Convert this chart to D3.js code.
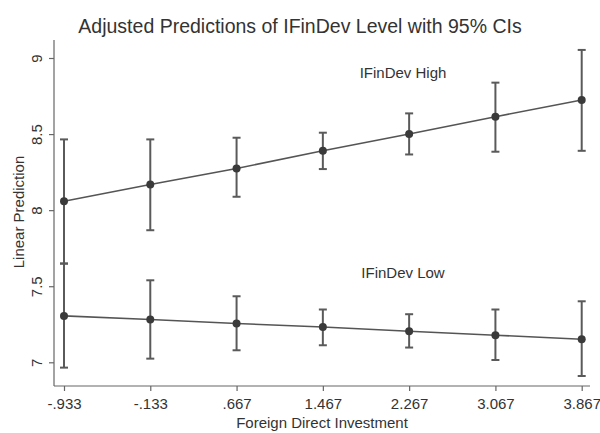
<!DOCTYPE html>
<html><head><meta charset="utf-8">
<script src="https://cdn.jsdelivr.net/npm/d3@7/dist/d3.min.js"></script>
<style>body{margin:0;background:#fff}svg{display:block}text{font-family:"Liberation Sans",Arial,sans-serif;fill:#333}</style>
</head><body><svg id="c" width="600" height="433"></svg>
<script>
const xValues = [-0.933, -0.133, 0.667, 1.467, 2.267, 3.067, 3.867];
const xTickLabels = ["-.933", "-.133", ".667", "1.467", "2.267", "3.067", "3.867"];
const yTicks = [7, 7.5, 8, 8.5, 9];
const yTickLabels = ["7", "7.5", "8", "8.5", "9"];
const highPred = [8.059, 8.169, 8.274, 8.390, 8.500, 8.614, 8.724];
const highLo   = [7.649, 7.868, 8.088, 8.270, 8.366, 8.384, 8.390];
const highHi   = [8.465, 8.465, 8.476, 8.509, 8.636, 8.838, 9.053];
const lowPred  = [7.305, 7.281, 7.255, 7.232, 7.204, 7.178, 7.151];
const lowLo    = [6.965, 7.024, 7.079, 7.112, 7.097, 7.015, 6.910];
const lowHi    = [7.649, 7.539, 7.434, 7.347, 7.316, 7.347, 7.401];
const seriesLabels = ["IFinDev High", "IFinDev Low"];

const svg = d3.select("#c");
const x = d3.scaleLinear().domain([-0.933, 3.867]).range([64, 581.7]);
const y = d3.scaleLinear().domain([7, 9]).range([362.3, 58]);
const pL = 54, pR = 590, pT = 40, pB = 386;

// title
svg.append("text").attr("x", 300).attr("y", 33).attr("text-anchor", "middle")
  .style("font-size", "19.5px").text("Adjusted Predictions of IFinDev Level with 95% CIs");

// axes
const xAxis = d3.axisBottom(x).tickValues(xValues).tickFormat((d, i) => xTickLabels[i]).tickSize(5).tickSizeOuter(0);
const gx = svg.append("g").attr("transform", `translate(0,${pB})`).call(xAxis);
gx.select(".domain").attr("d", `M${pL},0H${pR}`);
gx.selectAll("line,path").attr("stroke", "#666").attr("stroke-width", 1.2);
gx.selectAll("text").style("font-size", "15px").attr("dy", null).attr("y", 23).attr("fill", "#333");

const yAxis = d3.axisLeft(y).tickValues(yTicks).tickFormat((d, i) => yTickLabels[i]).tickSize(5).tickSizeOuter(0);
const gy = svg.append("g").attr("transform", `translate(${pL},0)`).call(yAxis);
gy.select(".domain").attr("d", `M0,${pT}V${pB}`);
gy.selectAll("line,path").attr("stroke", "#666").attr("stroke-width", 1.2);
gy.selectAll(".tick text").style("font-size", "15px").attr("x", null).attr("dy", null)
  .attr("text-anchor", "middle").attr("transform", "translate(-12,0) rotate(-90)").attr("y", 0).attr("fill", "#333");

svg.append("text").attr("transform", "translate(24,212) rotate(-90)").attr("text-anchor", "middle")
  .style("font-size", "15px").text("Linear Prediction");
svg.append("text").attr("x", 322).attr("y", 428).attr("text-anchor", "middle")
  .style("font-size", "15px").text("Foreign Direct Investment");

function drawSeries(pred, lo, hi) {
  const g = svg.append("g");
  const data = xValues.map((v, i) => ({x: v, p: pred[i], lo: lo[i], hi: hi[i]}));
  g.selectAll(".ci").data(data).enter().append("line")
    .attr("x1", d => x(d.x)).attr("x2", d => x(d.x))
    .attr("y1", d => y(d.lo)).attr("y2", d => y(d.hi))
    .attr("stroke", "#5a5a5a").attr("stroke-width", 2);
  ["lo", "hi"].forEach(k => {
    g.selectAll(".cap" + k).data(data).enter().append("line")
      .attr("x1", d => x(d.x) - 4).attr("x2", d => x(d.x) + 4)
      .attr("y1", d => y(d[k])).attr("y2", d => y(d[k]))
      .attr("stroke", "#5a5a5a").attr("stroke-width", 2);
  });
  g.append("path").datum(data)
    .attr("d", d3.line().x(d => x(d.x)).y(d => y(d.p)))
    .attr("fill", "none").attr("stroke", "#555").attr("stroke-width", 1.6);
  g.selectAll("circle").data(data).enter().append("circle")
    .attr("cx", d => x(d.x)).attr("cy", d => y(d.p)).attr("r", 4)
    .attr("fill", "#3a3a3a");
}
drawSeries(highPred, highLo, highHi);
drawSeries(lowPred, lowLo, lowHi);

svg.append("text").attr("x", 403).attr("y", 78).attr("text-anchor", "middle")
  .style("font-size", "15px").text(seriesLabels[0]);
svg.append("text").attr("x", 403).attr("y", 278).attr("text-anchor", "middle")
  .style("font-size", "15px").text(seriesLabels[1]);
</script></body></html>
